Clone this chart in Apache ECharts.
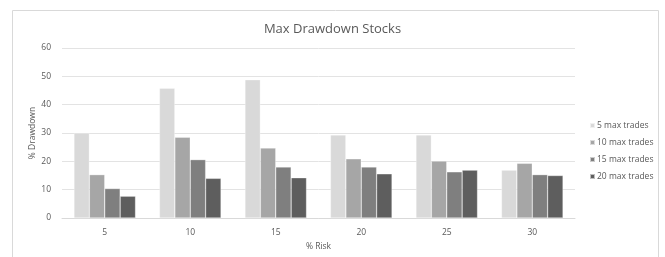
<!DOCTYPE html>
<html><head><meta charset="utf-8">
<script src="https://cdn.jsdelivr.net/npm/echarts@6/dist/echarts.min.js"></script>
<style>html,body{margin:0;padding:0;background:#fff}#c{width:665px;height:257px}</style>
</head><body><div id="c"></div>
<script>
const categories = ['5','10','15','20','25','30'];
const seriesNames = ['5 max trades','10 max trades','15 max trades','20 max trades'];
const s5 = [30, 45.8, 48.8, 29.3, 29.3, 16.9];
const s10 = [15.3, 28.5, 24.7, 20.9, 20.1, 19.3];
const s15 = [10.4, 20.6, 18, 18, 16.3, 15.3];
const s20 = [7.7, 14, 14.2, 15.6, 16.9, 15];
const colors = ['#d9d9d9','#a6a6a6','#7f7f7f','#5e5e5e'];
const font = 'Open Sans';
const chart = echarts.init(document.getElementById('c'));
chart.setOption({
  animation:false,
  title:{text:'Max Drawdown Stocks',left:'center',top:18,textStyle:{fontFamily:font,fontSize:13,fontWeight:'normal',color:'#595959'}},
  graphic:[{type:'rect',shape:{x:12.5,y:10.5,width:646,height:260},style:{fill:'none',stroke:'#d9d9d9',lineWidth:1}}],
  legend:{orient:'vertical',left:584,top:116,itemWidth:5,itemHeight:5,itemGap:8,icon:'rect',
    textStyle:{fontFamily:font,fontSize:8.5,color:'#595959',padding:[0,0,0,-3]},data:seriesNames},
  grid:{left:62,right:90,top:48,bottom:39},
  xAxis:{type:'category',data:categories,name:'% Risk',nameLocation:'middle',nameGap:22,
    nameTextStyle:{fontFamily:font,fontSize:8.5,color:'#595959'},
    axisLine:{lineStyle:{color:'#d9d9d9'}},axisTick:{show:false},
    axisLabel:{fontFamily:font,fontSize:8.5,color:'#595959',margin:10}},
  yAxis:{type:'value',min:0,max:60,interval:10,name:'% Drawdown',nameLocation:'middle',nameGap:25,nameMoveOverlap:false,
    nameTextStyle:{fontFamily:font,fontSize:8.5,color:'#595959'},
    axisLine:{show:false},axisTick:{show:false},
    axisLabel:{fontFamily:font,fontSize:8.5,color:'#595959',margin:11},
    splitLine:{lineStyle:{color:'#e3e3e3'}}},
  series:[s5,s10,s15,s20].map((d,i)=>({type:'bar',name:seriesNames[i],data:d,barGap:'0%',barCategoryGap:'28%',
    itemStyle:{color:colors[i],borderColor:'rgba(255,255,255,0.6)',borderWidth:0.5}}))
});
</script></body></html>
